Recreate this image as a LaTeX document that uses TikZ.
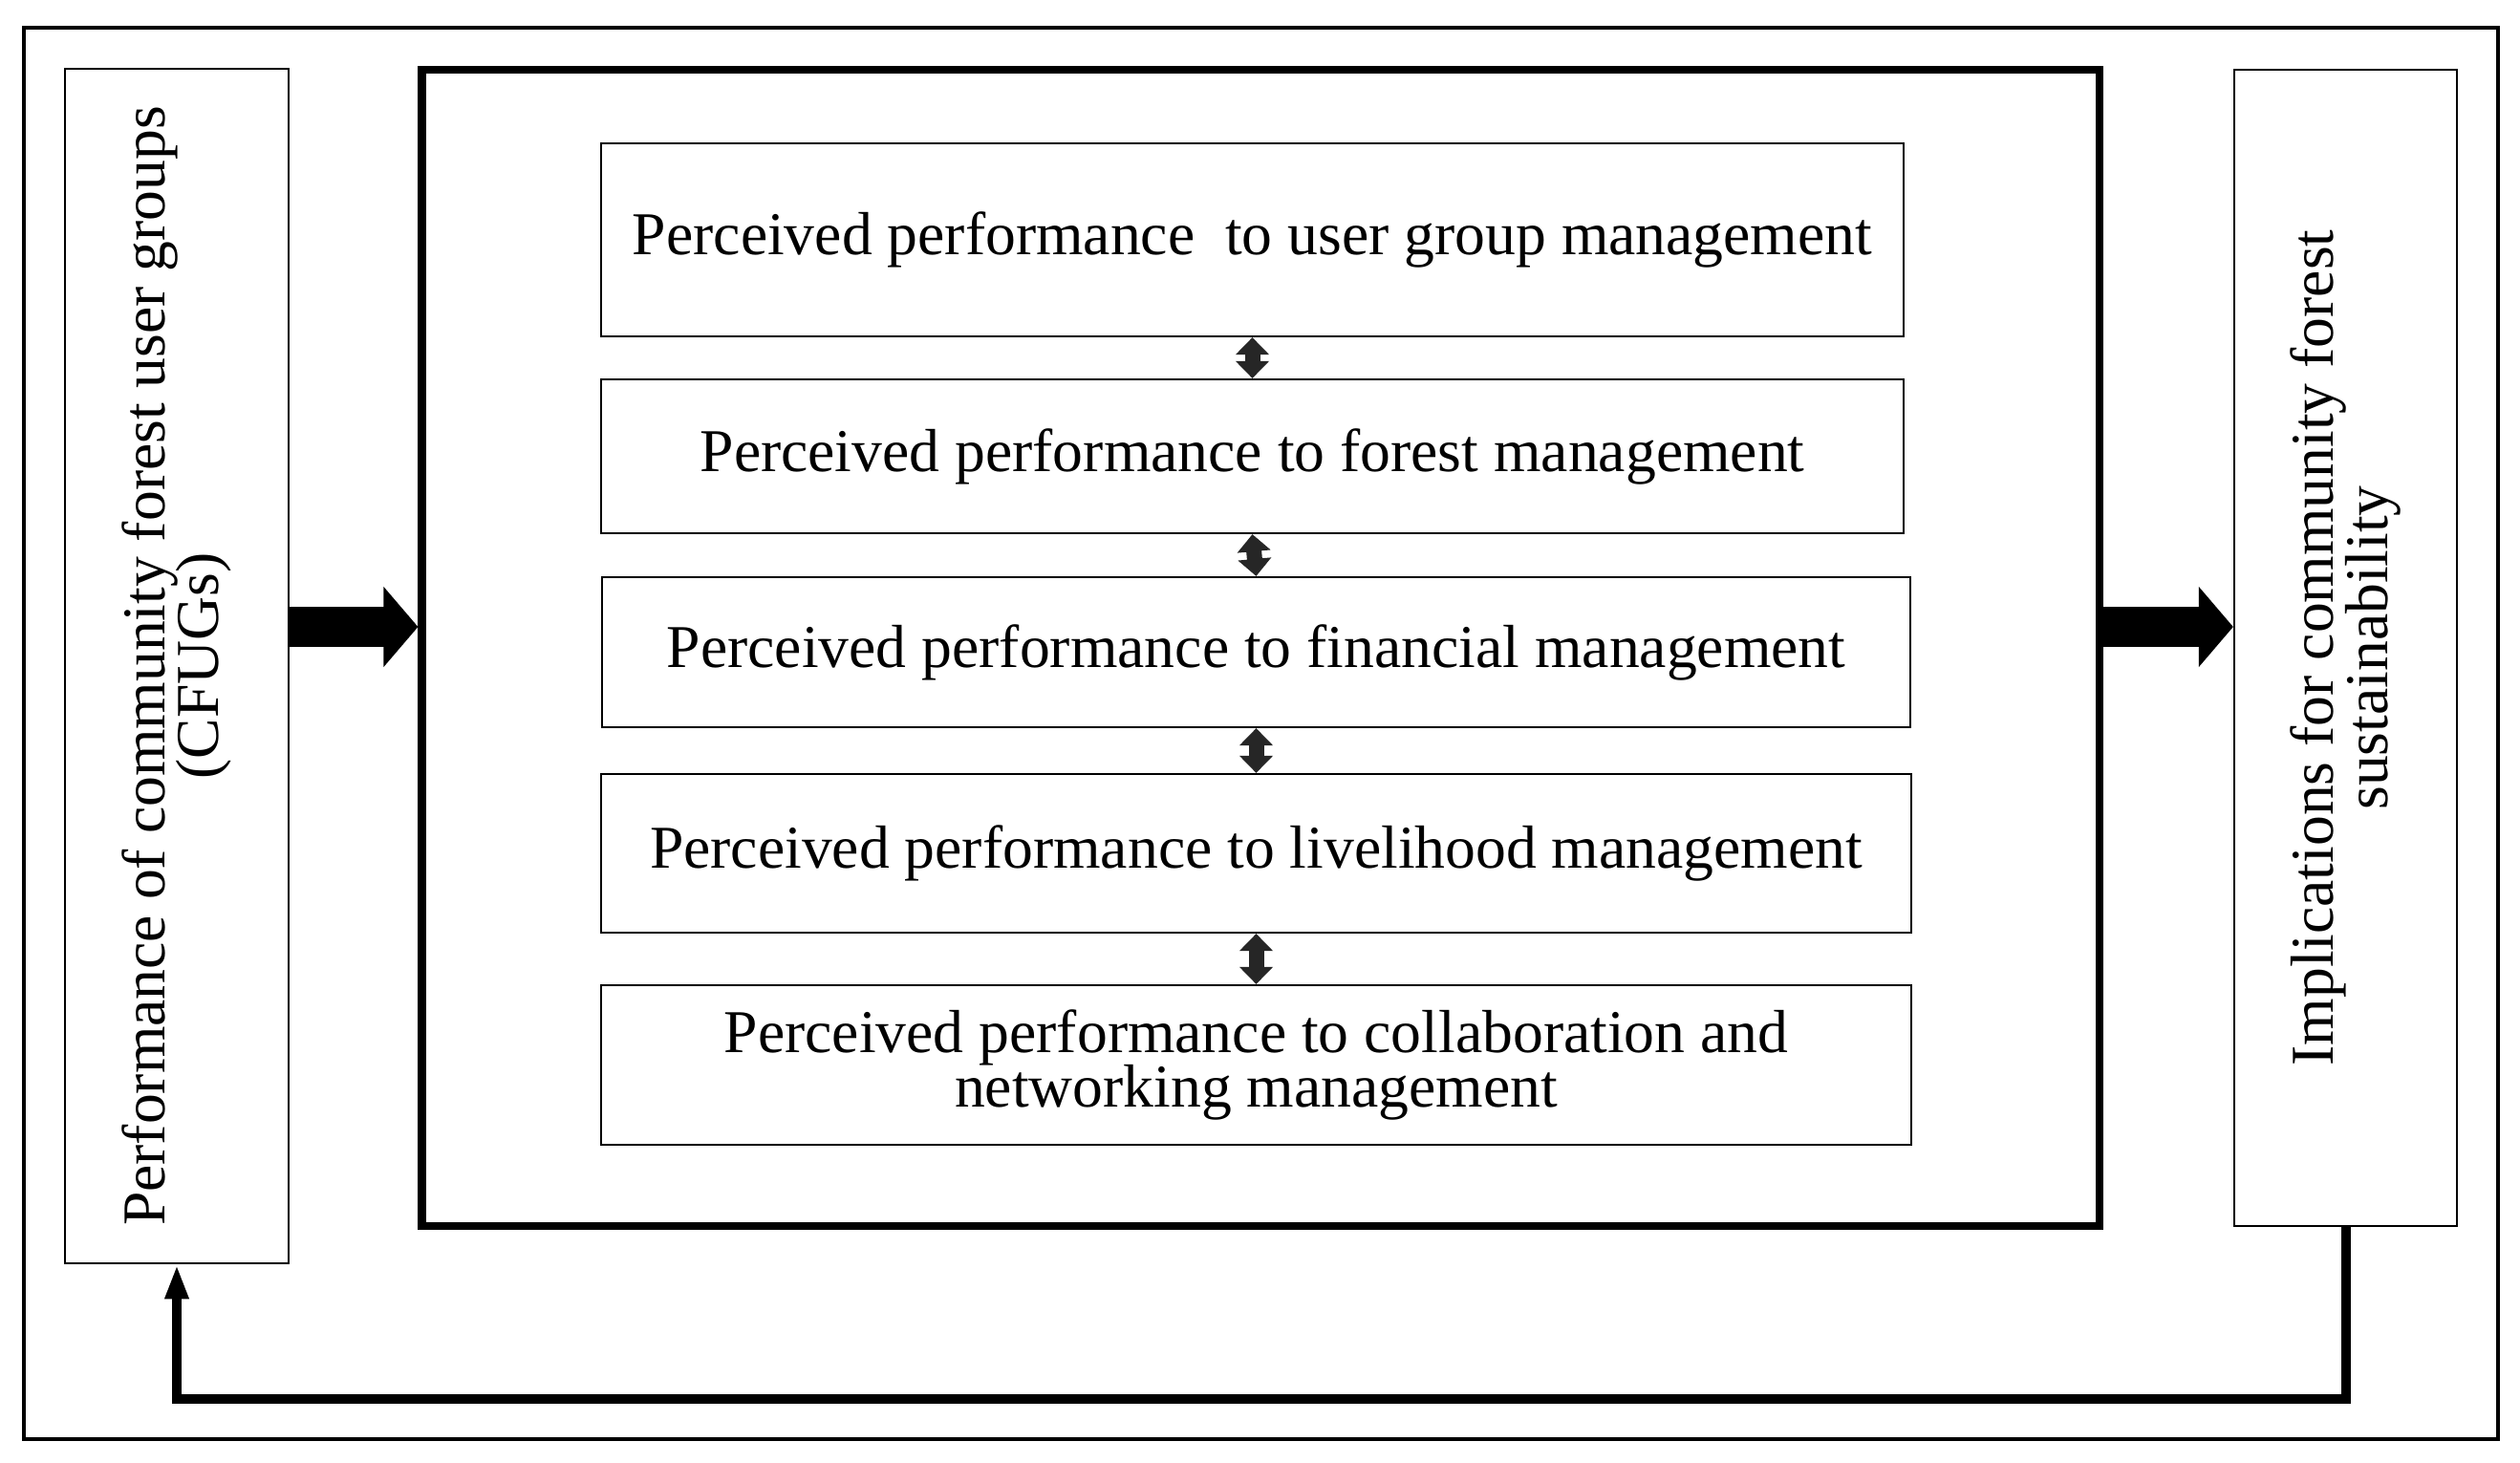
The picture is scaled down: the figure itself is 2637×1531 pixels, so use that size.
\documentclass[tikz,border=0pt]{standalone}
\usepackage{fontspec}
\setmainfont{Liberation Serif}
\usetikzlibrary{arrows.meta}

\newcommand\boxfont{\fontsize{18.1}{16}\selectfont\lineskiplimit=-20pt\relax}

\tikzset{
	every box/.style={draw, line width=0.6pt, inner sep=0pt, align=center},
	every label text/.style={align=center, font=\boxfont},
	link/.style={line width=0.16cm, draw=black!85, {Triangle[width=0.34cm,length=0.18cm]}-{Triangle[width=0.34cm,length=0.18cm]}},
	block arrow/.style={line width=0.42cm, -{Triangle[width=0.82cm,length=0.36cm]}},
	loop line/.style={line width=0.1cm, line join=miter, -{Triangle[width=0.23cm,length=0.36cm]}}
}

\begin{document}
\begin{tikzpicture}[x=0.01cm, y=-0.01cm]

\useasboundingbox (0,0) rectangle (2637,1531);
\draw [line width=0.9pt] (25,29) rectangle (2614,1506);

\node [every box/.try, minimum width=2.34cm, minimum height=12.5cm] (lbox) at (185,697) {};
\node [every box/.try, minimum width=2.33cm, minimum height=12.1cm] (rbox) at (2454.5,678) {};
\node [every box/.try, line width=2.3pt, minimum width=17.54cm, minimum height=12.1cm] (mbox) at (1319,678) {};

%side texts
\node [every label text/.try, rotate=90] (lbox-text) at (lbox.center) {Performance of community forest user groups\\(CFUGs)};
\node [every label text/.try, rotate=90] (rbox-text) at (rbox.center) {Implications for community forest\\sustainability};

%inner boxes
\foreach \t/\cx/\cy/\w/\h [count=\i] in {
	{Perceived performance~ to user group management}/1310.5/251/13.63/2.02,
	{Perceived performance to forest management}/1310.5/477.5/13.63/1.61,
	{Perceived performance to financial management}/1314.5/682.5/13.69/1.57,
	{Perceived performance to livelihood management}/1314.5/893/13.71/1.66,
	{Perceived performance to collaboration and\\networking management}/1314.5/1114.5/13.71/1.67}
	\node [every box/.try, every label text/.try, minimum width=\w cm, minimum height=\h cm] (b\i) at (\cx,\cy) {\t};

%drawing part
\foreach \i [count=\j from 2] in {1,...,4}
	\draw [link] (b\i.south) -- (b\j.north);

\coordinate (arrowrow) at (1310,656);
\coordinate (loopbot) at (1310,1464);

\draw [block arrow] (lbox.east |- arrowrow) -- (mbox.west |- arrowrow);
\draw [block arrow] (mbox.east |- arrowrow) -- (rbox.west |- arrowrow);
\draw [loop line] (rbox.south) -- (rbox.south |- loopbot) -- (lbox.south |- loopbot) -- (lbox.south);

\end{tikzpicture}
\end{document}
